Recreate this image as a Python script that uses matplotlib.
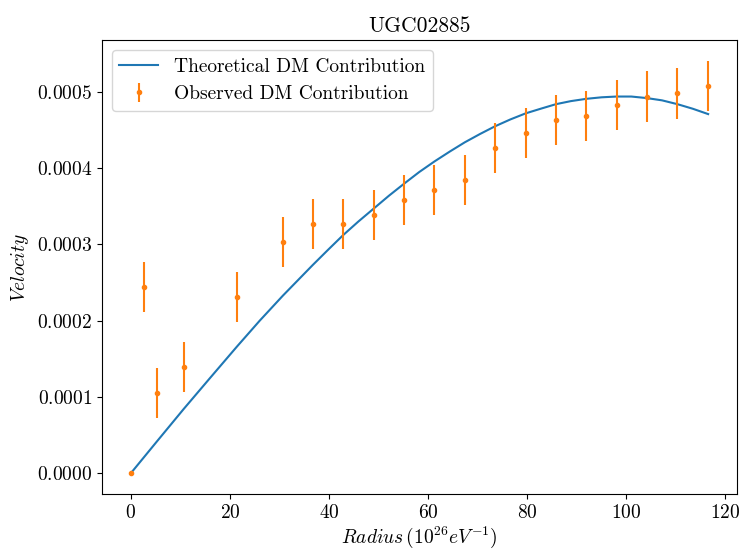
import numpy as np
import matplotlib
matplotlib.use('Agg')
import matplotlib.pyplot as plt

plt.rcParams['font.family'] = 'cmr10'
plt.rcParams['mathtext.fontset'] = 'cm'
plt.rcParams['axes.formatter.use_mathtext'] = True
plt.rcParams['font.size'] = 14

# observed points
r_obs = [0, 2.62, 5.30, 10.69, 21.44, 30.66, 36.71, 42.82, 49.01, 55.16,
         61.25, 67.37, 73.48, 79.67, 85.78, 91.91, 98.02, 104.07, 110.27, 116.44]
v_obs = [0, 0.000244, 0.0001056, 0.000139, 0.000231, 0.000303, 0.000327, 0.000327,
         0.000339, 0.000358, 0.000371, 0.000385, 0.000426, 0.000446, 0.000463,
         0.000469, 0.000483, 0.000494, 0.000498, 0.000508]
v_err = [0] + [0.0000329] * 19

# theoretical curve
r_th = [0, 5.3, 10.7, 16.0, 21.4, 26.0, 30.7, 33.7, 36.7, 39.8, 42.8, 45.9, 49.0,
        52.1, 55.2, 58.2, 61.3, 64.4, 67.4, 70.5, 73.5, 76.6, 79.7, 82.7, 85.8,
        88.8, 91.9, 95.0, 98.0, 101.0, 104.1, 107.2, 110.3, 113.4, 116.5]
v_th = [0, 0.000042, 0.0000845, 0.000125, 0.000166, 0.000200, 0.000233, 0.000253,
        0.000273, 0.000293, 0.000312, 0.000330, 0.000347, 0.000364, 0.000380,
        0.000395, 0.000409, 0.000422, 0.000434, 0.000445, 0.000455, 0.000464,
        0.000472, 0.000478, 0.000484, 0.000488, 0.000491, 0.000493, 0.000494,
        0.000494, 0.000492, 0.000489, 0.000484, 0.000478, 0.000471]

fig = plt.figure(figsize=(7.44, 5.5), dpi=100)
ax = fig.add_subplot(111)
fig.subplots_adjust(left=0.137, right=0.9906, top=0.927, bottom=0.102)

ax.plot(r_th, v_th, color='C0', label='Theoretical DM Contribution')
ax.errorbar(r_obs, v_obs, yerr=v_err, fmt='.', color='C1', label='Observed DM Contribution')

ax.set_title('UGC02885', fontsize=15.5)
ax.set_xlabel(r'$Radius\,(10^{26} eV^{-1})$', labelpad=2)
ax.set_ylabel(r'$Velocity$')
ax.legend(loc='upper left')

fig.savefig('out.png', dpi=100)
